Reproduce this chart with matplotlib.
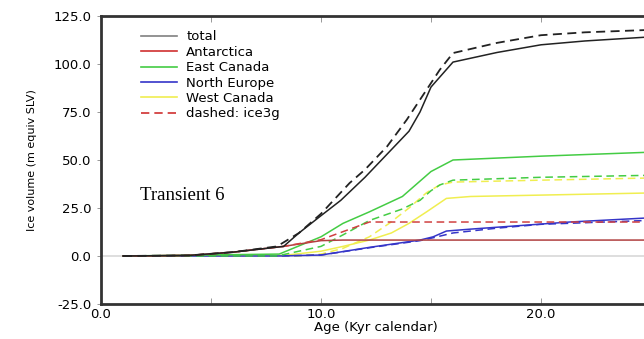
import numpy as np
import matplotlib.pyplot as plt
from matplotlib.lines import Line2D

# ages (kyr) and ice volumes (m equiv SLV)
total_x = [1, 4, 6, 8.3, 9, 10, 10.9, 12, 13, 14, 14.5, 15, 16, 18, 20, 22, 24.8]
total_y = [0, 0.3, 2, 5, 12, 21, 29, 41, 53, 65, 75, 88, 101, 106, 110, 112, 114]
total_ice3g_x = [1, 4, 6, 8, 9, 10, 11.3, 12, 13, 13.9, 15.4, 16, 18, 20, 22, 24.8]
total_ice3g_y = [0, 0.3, 2, 5, 12, 22, 38, 45, 57, 71, 97, 105.7, 111, 115, 116.5, 117.7]

ant_x = [1, 4, 6, 8.3, 10, 11, 24.8]
ant_y = [0, 0.3, 2, 5, 8, 8.3, 8.3]
ant_ice3g_x = [1, 4, 6, 8.3, 10, 12.2, 24.8]
ant_ice3g_y = [0, 0.3, 2, 5, 8.5, 17.7, 17.7]

ecan_x = [1, 8.1, 10, 11, 12.2, 13.7, 14.5, 15, 16, 20, 24.8]
ecan_y = [0, 1, 10, 17, 23, 31, 39, 44, 50, 52, 54]
ecan_ice3g_x = [1, 8, 10, 11, 12.2, 13.7, 14.5, 15, 15.4, 16, 20, 24.8]
ecan_ice3g_y = [0, 0, 5, 11, 18.5, 24.5, 29, 34, 37, 39.5, 41, 42]

neur_x = [1, 8, 10, 12.2, 14.5, 15.1, 15.7, 16.8, 21.3, 24.8]
neur_y = [0, 0, 0.5, 4.5, 8.3, 10, 13, 14, 17.7, 19.8]
neur_ice3g_x = [1, 8, 10, 12.2, 14.5, 15.1, 16, 18, 20, 24.8]
neur_ice3g_y = [0, 0, 0.5, 4.3, 8, 9.5, 12, 14.5, 16.5, 18.5]

wcan_x = [1, 8.3, 10, 11, 12.2, 13.2, 14, 14.8, 15.7, 16.8, 24.8]
wcan_y = [0, 0.3, 2.5, 5, 8.3, 12, 17, 23, 30, 31, 32.8]
wcan_ice3g_x = [1, 9, 10, 11, 12.2, 13.1, 14, 14.8, 15.4, 16, 20, 24.8]
wcan_ice3g_y = [0, 0, 1, 4, 10, 17, 25, 33, 37, 38.5, 39.5, 40.6]

labels = ['total', 'Antarctica', 'East Canada', 'North Europe', 'West Canada', 'dashed: ice3g']
c_total = '#222222'
c_ant = '#b04040'
c_ecan = '#44cc44'
c_neur = '#3535c8'
c_wcan = '#f0ee50'

plt.rcParams['font.family'] = 'DejaVu Sans'
fig = plt.figure(figsize=(6.44, 3.39), dpi=100)
# axes run past the right edge of the picture (cropped original)
ax = fig.add_axes([101/644, 1 - 304/339, 550/644, 288/339])

ax.axhline(0, color='#d8d8d8', lw=1.2, zorder=0)

lw = 1.1
ax.plot(wcan_x, wcan_y, color=c_wcan, lw=lw)
ax.plot(wcan_ice3g_x, wcan_ice3g_y, color=c_wcan, lw=lw, ls=(0, (5, 3)))
ax.plot(neur_x, neur_y, color=c_neur, lw=lw)
ax.plot(neur_ice3g_x, neur_ice3g_y, color=c_neur, lw=lw, ls=(0, (5, 3)))
ax.plot(ecan_x, ecan_y, color=c_ecan, lw=lw)
ax.plot(ecan_ice3g_x, ecan_ice3g_y, color=c_ecan, lw=lw, ls=(0, (5, 3)))
ax.plot(ant_x, ant_y, color=c_ant, lw=lw)
ax.plot(ant_ice3g_x, ant_ice3g_y, color='#d04040', lw=lw, ls=(0, (5, 3)))
ax.plot(total_x, total_y, color=c_total, lw=lw)
ax.plot(total_ice3g_x, total_ice3g_y, color=c_total, lw=1.3, ls=(0, (5, 3)))

ax.set_xlim(0, 25)
ax.set_ylim(-25, 125)
ax.set_xticks(np.arange(0, 26, 5))
ax.set_xticklabels(['0.0', '', '10.0', '', '20.0', ''])
ax.set_yticks(np.arange(-25, 126, 25))
ax.set_yticklabels(['%.1f' % v for v in np.arange(-25, 126, 25)])
ax.tick_params(axis='x', direction='in', top=True, length=4, width=0.6,
               color='#888888', labelsize=9.5, pad=3)
ax.tick_params(axis='y', direction='out', length=3, width=0.6,
               color='#888888', labelsize=9.5, pad=4)
for s in ['left', 'bottom', 'top']:
    ax.spines[s].set_linewidth(2)
    ax.spines[s].set_color('#333333')
ax.spines['right'].set_visible(False)

ax.set_xlabel('Age (Kyr calendar)', fontsize=9.5, labelpad=0)
ax.set_ylabel('Ice volume (m equiv SLV)', fontsize=8, labelpad=12)

handles = [Line2D([], [], color='#808080', lw=1.2),
           Line2D([], [], color='#d03030', lw=1.2),
           Line2D([], [], color=c_ecan, lw=1.2),
           Line2D([], [], color=c_neur, lw=1.2),
           Line2D([], [], color=c_wcan, lw=1.2),
           Line2D([], [], color='#d03030', lw=1.2, ls=(0, (5, 3)))]
ax.legend(handles, labels, loc='upper left', bbox_to_anchor=(0.064, 0.968),
          frameon=False, fontsize=9.5, handlelength=2.7, handletextpad=0.7,
          labelspacing=0.18, borderaxespad=0)

ax.text(140, 339 - 195, 'Transient 6', transform=None, fontsize=13.5,
        family='Liberation Serif', va='center', ha='left')

fig.savefig('out.png', dpi=100)
